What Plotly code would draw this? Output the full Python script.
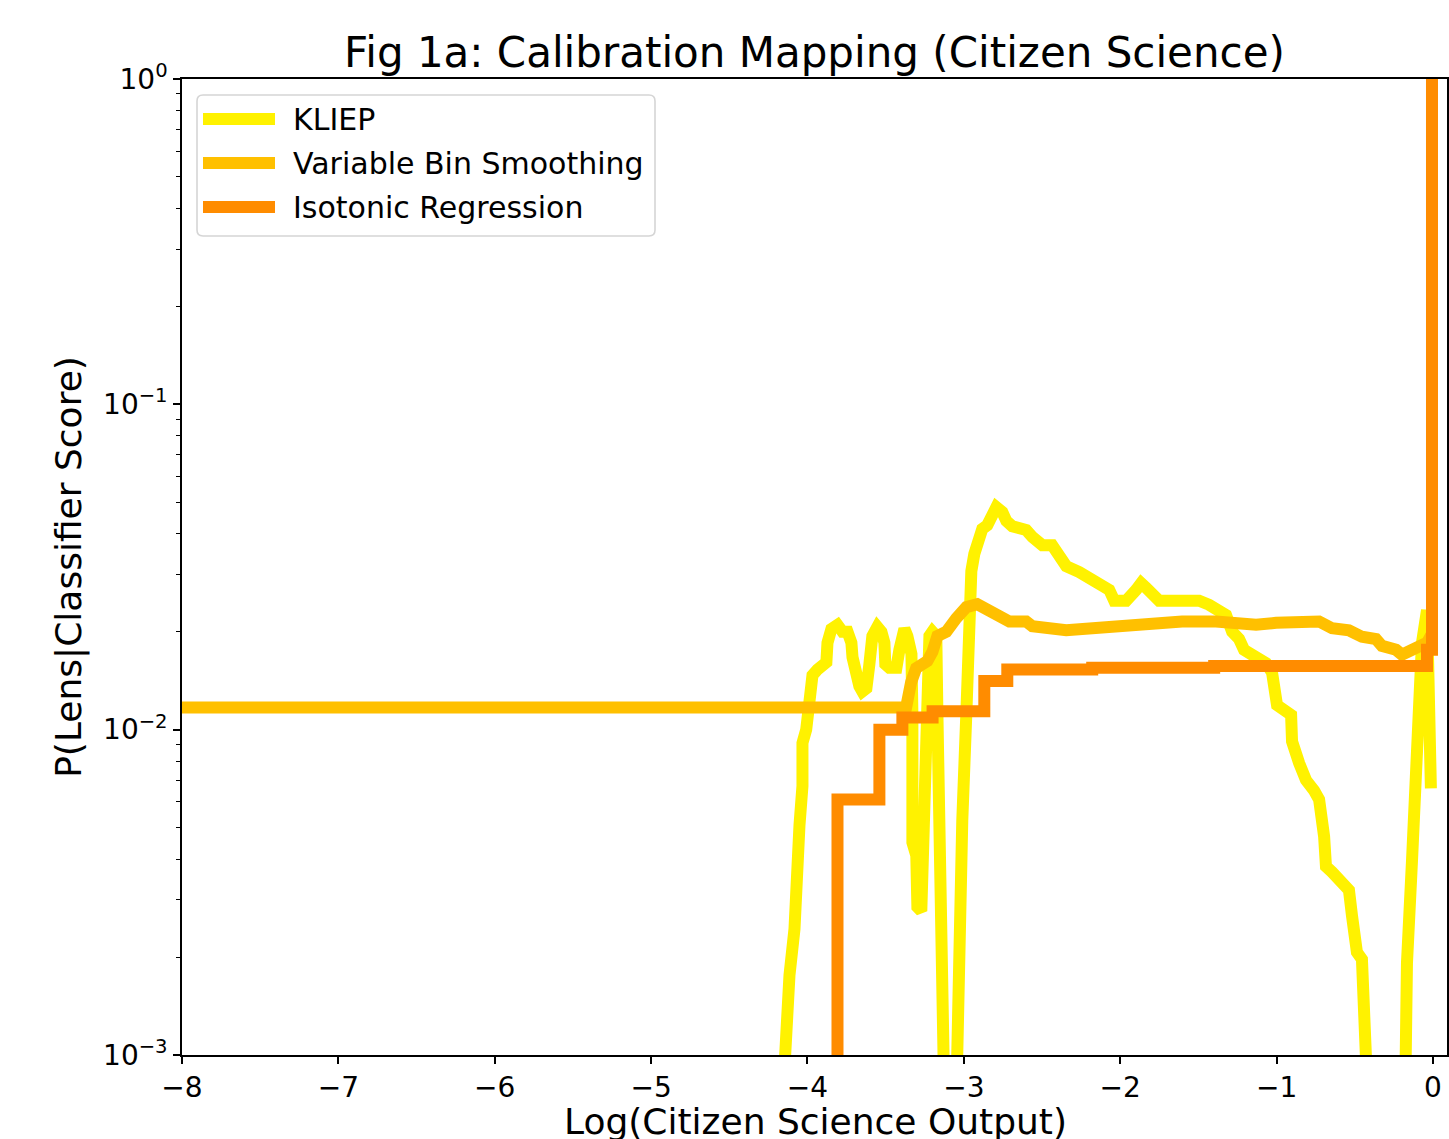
import plotly.graph_objects as go

# ---------------- data ----------------
series_names = ["KLIEP", "Variable Bin Smoothing", "Isotonic Regression"]
series_colors = ["#FFF200", "#FFC000", "#FF8C00"]

kliep_x = [-4.16, -4.136, -4.115, -4.083, -4.072, -4.051, -4.032, -4.032, -4.008, -3.987,
           -3.968, -3.936, -3.879, -3.872, -3.847, -3.808, -3.776, -3.744, -3.719, -3.712,
           -3.693, -3.668, -3.649, -3.623, -3.604, -3.591, -3.585, -3.553, -3.527, -3.508,
           -3.502, -3.476, -3.431, -3.412, -3.399, -3.380, -3.361, -3.335, -3.329, -3.329,
           -3.329, -3.304, -3.297, -3.272, -3.265, -3.252, -3.240, -3.233, -3.220, -3.201,
           -3.176, -3.169, -3.157, -3.137, -3.125, -3.115, -3.060, -3.048, -3.029, -3.010,
           -2.984, -2.965, -2.952, -2.933, -2.914, -2.901, -2.882, -2.850, -2.824, -2.792,
           -2.754, -2.728, -2.690, -2.601, -2.562, -2.498, -2.435, -2.390, -2.345, -2.262,
           -2.198, -2.134, -2.070, -2.038, -1.962, -1.898, -1.866, -1.834, -1.783, -1.751,
           -1.668, -1.495, -1.431, -1.367, -1.323, -1.284, -1.240, -1.208, -1.131, -1.067,
           -1.029, -1.016, -0.997, -0.907, -0.901, -0.856, -0.812, -0.760, -0.728, -0.696,
           -0.684, -0.645, -0.581, -0.537, -0.518, -0.486, -0.454, -0.428, -0.405, -0.395,
           -0.185, -0.173, -0.166, -0.134, -0.102, -0.089, -0.070, -0.057, -0.038, -0.013]
kliep_y = [0.0007, 0.00148, 0.00176, 0.00244, 0.00406, 0.00509, 0.00671, 0.0091, 0.0100, 0.0123,
           0.0147, 0.0153, 0.0161, 0.0185, 0.0204, 0.0210, 0.0200, 0.0200, 0.0185, 0.0167,
           0.0143, 0.0136, 0.0131, 0.0134, 0.0159, 0.0176, 0.0194, 0.0207, 0.0200, 0.0185,
           0.0159, 0.0155, 0.0155, 0.0176, 0.0194, 0.0204, 0.0194, 0.0171, 0.0112, 0.0067,
           0.0045, 0.0041, 0.00285, 0.00277, 0.00357, 0.00524, 0.00865, 0.0176, 0.0194, 0.0200,
           0.0194, 0.0112, 0.00524, 0.00244, 0.0010, 0.0004, 0.0004, 0.0010, 0.00244, 0.00524,
           0.0112, 0.0238, 0.0307, 0.0347, 0.0367, 0.0394, 0.0414, 0.0425, 0.0460, 0.0483,
           0.0467, 0.0438, 0.0422, 0.0411, 0.0391, 0.0369, 0.0369, 0.0344, 0.0318, 0.0305,
           0.0294, 0.0278, 0.0269, 0.0249, 0.0249, 0.0269, 0.0282, 0.0273, 0.0261, 0.0249,
           0.0249, 0.0249, 0.0242, 0.0233, 0.0225, 0.0200, 0.0190, 0.0176, 0.0167, 0.0160,
           0.0150, 0.0129, 0.0119, 0.0111, 0.0092, 0.0079, 0.0070, 0.0065, 0.0061, 0.0047,
           0.0038, 0.00365, 0.00338, 0.00321, 0.00269, 0.00207, 0.00197, 0.00127, 0.0007, 0.0004,
           0.0004, 0.0008, 0.00192, 0.00394, 0.00695, 0.0117, 0.0185, 0.0205, 0.0233, 0.0066]

vbs_x = [-8.0, -3.369, -3.337, -3.305, -3.233, -3.201, -3.169, -3.112, -3.048, -2.984,
         -2.914, -2.837, -2.754, -2.709, -2.601, -2.562, -2.345, -2.026, -1.815, -1.604,
         -1.387, -1.131, -1.003, -0.901, -0.728, -0.645, -0.537, -0.454, -0.364, -0.326,
         -0.236, -0.198, -0.134, -0.077, -0.038, -0.012]
vbs_y = [0.0117, 0.0117, 0.0140, 0.01546, 0.01625, 0.01733, 0.0194, 0.0200, 0.0220, 0.0238,
         0.0243, 0.0230, 0.0217, 0.0215, 0.0215, 0.0208, 0.0202, 0.0208, 0.0213, 0.0215,
         0.0215, 0.0210, 0.0213, 0.0213, 0.0215, 0.0205, 0.0202, 0.0193, 0.0190, 0.0181,
         0.0176, 0.0170, 0.0176, 0.0178, 0.0185, 0.0195]

iso_x = [-8.0, -3.808, -3.54, -3.393, -3.20, -2.869, -2.722, -2.179, -1.399, -0.038, -0.006, 0.0]
iso_y = [1e-6, 0.0061, 0.0100, 0.0109, 0.0114, 0.0141, 0.0153, 0.0155, 0.0157, 0.0176, 1.0, 1.0]

x_tick_vals = [-8, -7, -6, -5, -4, -3, -2, -1, 0]
x_tick_text = ["\u22128", "\u22127", "\u22126", "\u22125", "\u22124", "\u22123", "\u22122", "\u22121", "0"]
y_tick_vals = [1e-3, 1e-2, 1e-1, 1]
y_tick_text = ["10<sup>\u22123</sup>", "10<sup>\u22122</sup>", "10<sup>\u22121</sup>", "10<sup>0</sup>"]
y_minor_vals = [m * 10.0 ** e for e in (-3, -2, -1) for m in range(2, 10)]

title_text = "Fig 1a: Calibration Mapping (Citizen Science)"
x_title = "Log(Citizen Science Output)"
y_title = "P(Lens|Classifier Score)"

# ---------------- figure ----------------
FONT = "DejaVu Sans"
W, H = 1449, 1139
L, R, T, B = 182, 2, 79, 84
LW = 12

fig = go.Figure()
fig.add_trace(go.Scatter(x=kliep_x, y=kliep_y, mode="lines", name=series_names[0],
                         line=dict(color=series_colors[0], width=LW), showlegend=False))
fig.add_trace(go.Scatter(x=vbs_x, y=vbs_y, mode="lines", name=series_names[1],
                         line=dict(color=series_colors[1], width=LW), showlegend=False))
fig.add_trace(go.Scatter(x=iso_x, y=iso_y, mode="lines", name=series_names[2],
                         line=dict(color=series_colors[2], width=LW, shape="hv"), showlegend=False))

fig.update_layout(
    width=W, height=H,
    margin=dict(l=L, r=R, t=T, b=B, autoexpand=False),
    paper_bgcolor="white", plot_bgcolor="white",
    font=dict(family=FONT, color="black", size=28),
    title=dict(text=title_text, font=dict(size=42, family=FONT, color="black"),
               x=(L + (W - R - L) / 2) / W, xanchor="center", xref="container",
               y=1 - 52 / H, yanchor="middle", yref="container"),
    showlegend=False,
)

fig.update_xaxes(
    range=[-8, 0.09], showgrid=False, zeroline=False,
    showline=True, mirror=True, linecolor="black", linewidth=1.6,
    ticks="outside", ticklen=7, tickwidth=1.6, tickcolor="black",
    tickvals=x_tick_vals, ticktext=x_tick_text, tickfont=dict(size=28),
    automargin=False,
)
fig.update_yaxes(
    type="log", range=[-3, 0], showgrid=False, zeroline=False,
    showline=True, mirror=True, linecolor="black", linewidth=1.6,
    ticks="outside", ticklen=7, tickwidth=1.6, tickcolor="black",
    tickvals=y_tick_vals, ticktext=y_tick_text, tickfont=dict(size=28),
    minor=dict(ticks="outside", ticklen=4, tickwidth=1.2, tickcolor="black",
               tickvals=y_minor_vals, showgrid=False),
    title=dict(text=y_title, font=dict(size=36), standoff=10),
    automargin=False,
)

pw, ph = W - L - R, H - T - B
def px2x(px):
    return (px - L) / pw
def py2y(py):
    return (H - B - py) / ph

# x-axis title (placed like the reference, its bottom at the page edge)
fig.add_annotation(text=x_title, xref="paper", yref="paper", x=px2x(815), y=py2y(1121),
                   xanchor="center", yanchor="middle", showarrow=False,
                   font=dict(size=36, family=FONT, color="black"))

# ---------------- custom matplotlib-style legend ----------------
bx0, bx1, by0, by1 = px2x(197), px2x(655), py2y(236), py2y(95)
rx, ry = 6 / pw, 6 / ph
path = (f"M{bx0+rx},{by0} L{bx1-rx},{by0} Q{bx1},{by0} {bx1},{by0+ry} "
        f"L{bx1},{by1-ry} Q{bx1},{by1} {bx1-rx},{by1} L{bx0+rx},{by1} "
        f"Q{bx0},{by1} {bx0},{by1-ry} L{bx0},{by0+ry} Q{bx0},{by0} {bx0+rx},{by0} Z")
fig.add_shape(type="path", path=path, xref="paper", yref="paper",
              fillcolor="rgba(255,255,255,0.8)", line=dict(color="#D5D5D5", width=1.6),
              layer="above")
row_py = [119, 163, 207]
for name, color, rpy in zip(series_names, series_colors, row_py):
    fig.add_shape(type="line", xref="paper", yref="paper",
                  x0=px2x(203), x1=px2x(275), y0=py2y(rpy), y1=py2y(rpy),
                  line=dict(color=color, width=LW), layer="above")
    fig.add_annotation(text=name, xref="paper", yref="paper", x=px2x(291), y=py2y(rpy),
                       xanchor="left", yanchor="middle", showarrow=False,
                       font=dict(size=30, family=FONT, color="black"))

fig.write_html("out.html")
